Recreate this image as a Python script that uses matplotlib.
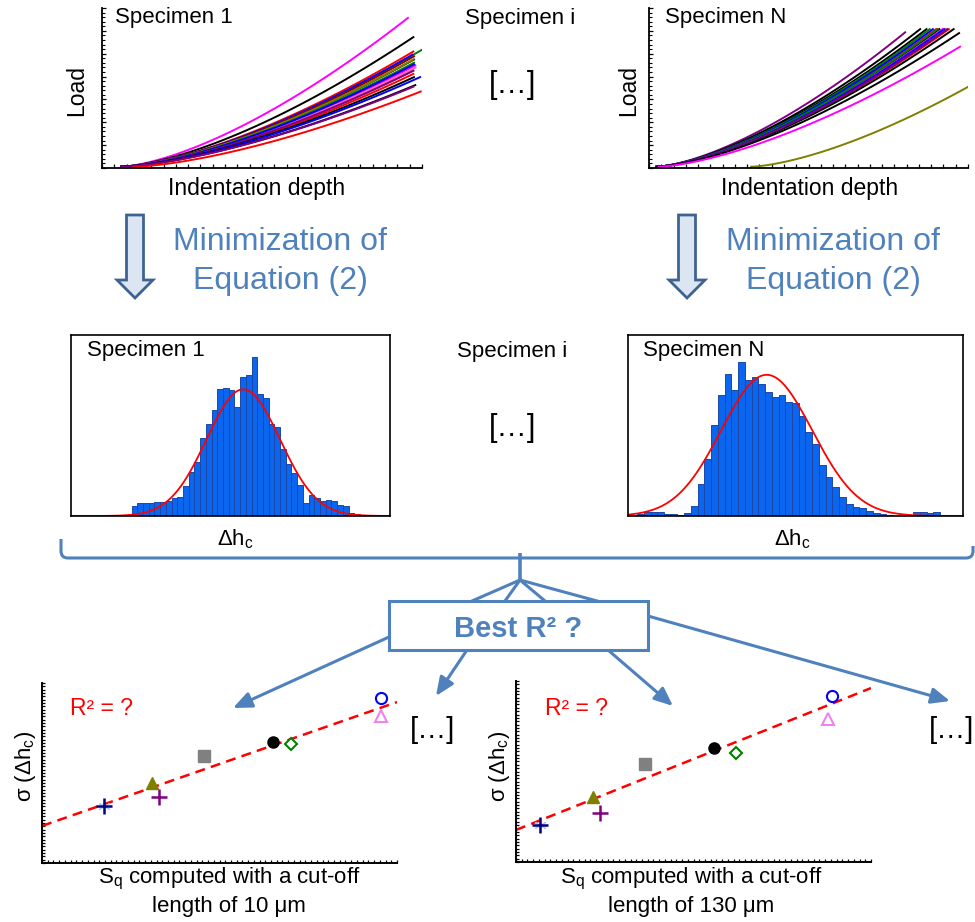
import numpy as np
import matplotlib
matplotlib.use('Agg')
import matplotlib.pyplot as plt
from matplotlib.patches import Polygon, Rectangle, PathPatch
from matplotlib.path import Path

plt.rcParams['font.family'] = ['Liberation Sans', 'DejaVu Sans']
plt.rcParams['mathtext.default'] = 'regular'

W, H = 975, 922
BLUE = '#4F81BD'

# ---- load / depth curves (axis fractions): start depth, end depth, end load
left_colors = ['magenta', 'black', 'green', 'red', 'blue', '#8B0000', 'black', 'olive',
               'magenta', 'green', 'gray', '#FF69B4', 'red', 'blue', 'purple', 'black',
               'blue', 'black', 'purple', 'red']
left_h0 = [0.06] * 19 + [0.10]
left_h1 = [0.956, 0.973, 0.999, 0.973, 0.970, 0.975, 0.975, 0.973, 0.979, 0.975,
           0.973, 0.980, 0.973, 0.975, 0.973, 0.975, 0.994, 0.979, 0.973, 0.996]
left_p1 = [0.93, 0.81, 0.73, 0.72, 0.70, 0.69, 0.67, 0.67, 0.633, 0.65,
           0.60, 0.62, 0.58, 0.64, 0.60, 0.56, 0.56, 0.51, 0.50, 0.47]

right_colors = ['purple', 'black', 'black', 'green', 'red', 'blue', 'black', 'magenta',
                'gray', 'red', 'black', 'green', 'blue', 'purple', 'black', 'magenta', 'olive']
right_h0 = [0.024] * 15 + [0.03, 0.32]
right_h1 = [0.803, 0.85, 0.87, 0.88, 0.90, 0.89, 0.91, 0.92, 0.93, 0.94,
            0.955, 0.905, 0.925, 0.935, 0.972, 0.975, 0.999]
right_p1 = [0.84, 0.86, 0.86, 0.86, 0.86, 0.86, 0.86, 0.86, 0.86, 0.86,
            0.86, 0.86, 0.86, 0.86, 0.835, 0.75, 0.498]
curve_exp = 1.5

# ---- histograms of delta h_c (bar heights in % of frame height)
hist1_counts = [5.5, 7, 7, 7, 8, 8, 8.5, 9.7, 10.7, 16.5, 24.5, 30, 43, 51, 58.5, 70, 70.5,
                69.5, 60, 77, 78, 88, 67.5, 65, 51, 49, 37, 29, 23.5, 17, 7, 11.5, 9.7,
                8.5, 8.8, 8.5, 6, 5.5, 1.5, 1]
hist1_range = (0.19, 0.906)
hist1_fit = (0.54, 0.115, 70)   # mean, sigma, amplitude

histN_counts = [0.7, 1.1, 2, 2, 2.4, 1.1, 1.1, 0.6, 1.5, 5.7, 17.7, 31.5, 50, 66.6, 78.6,
                69.7, 85, 75, 77, 73, 68.5, 65.7, 66.6, 63, 62.4, 55.5, 46.3, 40, 28,
                21.4, 15.9, 10.3, 6.6, 4.8, 4.4, 3, 1.8, 1.1, 0.4, 0.2, 0.2, 0.2, 2, 2,
                1.8, 2.4, 0.7, 0.7]
histN_range = (0.007, 0.972)
histN_fit = (0.414, 0.136, 78)

# ---- sigma(delta h_c) vs Sq for two cut-off lengths
sq10 = [0.175, 0.31, 0.33, 0.456, 0.651, 0.701, 0.955, 0.955]
sig10 = [0.317, 0.444, 0.367, 0.594, 0.672, 0.661, 0.917, 0.817]
fit10 = (0.206, 0.688)   # intercept, slope
sq130 = [0.068, 0.217, 0.237, 0.363, 0.558, 0.620, 0.890, 0.879]
sig130 = [0.204, 0.359, 0.271, 0.541, 0.630, 0.602, 0.917, 0.790]
fit130 = (0.177, 0.784)
spec_markers = ['+', '^', '+', 's', 'o', 'D', 'o', '^']
spec_colors = ['navy', '#808000', 'purple', 'gray', 'black', 'green', 'blue', 'violet']
spec_filled = [True, True, True, True, True, False, False, False]

fig = plt.figure(figsize=(W / 100, H / 100), dpi=100)


def pix_axes(x0, y0, x1, y1):
    return fig.add_axes([x0 / W, 1 - y1 / H, (x1 - x0) / W, (y1 - y0) / H])


def load_panel(box, h0s, h1s, p1s, colors):
    ax = pix_axes(*box)
    for h0, h1, p1, c in zip(h0s, h1s, p1s, colors):
        h = np.linspace(h0, h1, 80)
        ax.plot(h, 0.008 + p1 * ((h - h0) / (h1 - h0)) ** curve_exp, color=c, lw=1.4)
    ax.set_xlim(0, 1)
    ax.set_ylim(0, 1)
    for s in ['top', 'right']:
        ax.spines[s].set_visible(False)
    for s in ['left', 'bottom']:
        ax.spines[s].set_linewidth(1.3)
    ax.set_xticks(np.linspace(0, 1, 27))
    ax.set_yticks(np.linspace(0, 1, 8))
    ax.set_yticks(np.linspace(0, 1, 36), minor=True)
    ax.tick_params(direction='in', length=3, width=0.9, labelbottom=False, labelleft=False)
    ax.tick_params(which='minor', direction='in', length=2, width=0.8)
    ax.patch.set_alpha(0)


def hist_panel(box, counts, rng, fit):
    ax = pix_axes(*box)
    edges = np.linspace(rng[0], rng[1], len(counts) + 1)
    ax.bar(edges[:-1], counts, width=np.diff(edges), align='edge',
           color='#0A66EE', edgecolor='#1C47A8', lw=0.7)
    x = np.linspace(0, 1, 300)
    ax.plot(x, fit[2] * np.exp(-0.5 * ((x - fit[0]) / fit[1]) ** 2), color='red', lw=1.3)
    ax.set_xlim(0, 1)
    ax.set_ylim(0, 100)
    ax.set_xticks([])
    ax.set_yticks([])
    for s in ax.spines.values():
        s.set_linewidth(1.2)


def scatter_panel(box, xs, ys, fit):
    ax = pix_axes(*box)
    ax.plot([0, 1], [fit[0], fit[0] + fit[1]], color='red', lw=1.8, ls=(0, (4, 2.5)), zorder=2)
    for i, (x, y) in enumerate(zip(xs, ys)):
        m, c = spec_markers[i], spec_colors[i]
        if i == 0:
            ax.plot(x, y, marker=(6, 2, 0), ms=9, color='#AFC8F0', mew=0.8, zorder=3)
        if m == '+':
            ax.plot(x, y, marker='+', ms=11, color=c, mew=1.8, zorder=4)
        elif spec_filled[i]:
            ax.plot(x, y, marker=m, ms=8 if m != '^' else 8.5, color=c, mec=c, zorder=4)
        else:
            ax.plot(x, y, marker=m, ms=8 if m != 'D' else 6.5, mfc='white', mec=c,
                    mew=1.5, zorder=4)
    ax.set_xlim(0, 1)
    ax.set_ylim(0, 1)
    for s in ['top', 'right']:
        ax.spines[s].set_visible(False)
    for s in ['left', 'bottom']:
        ax.spines[s].set_linewidth(1.4)
    ax.set_xticks(np.linspace(0, 1, 63))
    ax.set_yticks(np.linspace(0, 1, 55))
    ax.tick_params(direction='in', length=2.5, width=0.9, labelbottom=False, labelleft=False)
    ax.patch.set_alpha(0)


load_panel((102, 8, 422, 168), left_h0, left_h1, left_p1, left_colors)
load_panel((649, 8, 968, 168), right_h0, right_h1, right_p1, right_colors)
hist_panel((71, 335, 390, 516), hist1_counts, hist1_range, hist1_fit)
hist_panel((628, 335, 963, 516), histN_counts, histN_range, histN_fit)
scatter_panel((42, 683, 397, 863), sq10, sig10, fit10)
scatter_panel((516, 681, 871, 862), sq130, sig130, fit130)

# ---- overlay in pixel coordinates for the diagram parts
ov = fig.add_axes([0, 0, 1, 1])
ov.set_xlim(0, W)
ov.set_ylim(H, 0)
ov.axis('off')

txt = dict(color='black', fontsize=16, va='baseline')
ov.text(115, 23, 'Specimen 1', **txt)
ov.text(665, 23, 'Specimen N', **txt)
ov.text(520, 24, 'Specimen i', ha='center', **txt)
ov.text(513, 93, '[…]', ha='center', color='black', fontsize=22, va='baseline')
ov.text(77, 90, 'Load', rotation=90, ha='center', va='center', fontsize=16.5)
ov.text(629, 90, 'Load', rotation=90, ha='center', va='center', fontsize=16.5)
ov.text(257, 195, 'Indentation depth', ha='center', va='baseline', fontsize=16.5)
ov.text(810, 195, 'Indentation depth', ha='center', va='baseline', fontsize=16.5)

# block arrows + captions
for cx, tx in [(135, 280), (687, 833)]:
    pts = [(cx - 8.5, 215), (cx + 8.5, 215), (cx + 8.5, 280), (cx + 18, 280),
           (cx, 298), (cx - 18, 280), (cx - 8.5, 280)]
    ov.add_patch(Polygon(pts, closed=True, fc='#DCE6F2', ec='#3E6392', lw=2))
    ov.text(tx, 250, 'Minimization of', ha='center', va='baseline', fontsize=23, color=BLUE)
    ov.text(tx, 289, 'Equation (2)', ha='center', va='baseline', fontsize=23, color=BLUE)

ov.text(87, 356, 'Specimen 1', **txt)
ov.text(643, 356, 'Specimen N', **txt)
ov.text(512, 357, 'Specimen i', ha='center', **txt)
ov.text(513, 436, '[…]', ha='center', color='black', fontsize=22, va='baseline')
ov.text(235, 545, 'Δh$_c$', ha='center', va='baseline', fontsize=16)
ov.text(792, 545, 'Δh$_c$', ha='center', va='baseline', fontsize=16)

# brace
brace = Path([(61, 539), (61, 551), (61, 558), (68, 558), (966, 558), (973, 558),
              (973, 551), (973, 546)],
             [Path.MOVETO, Path.LINETO, Path.CURVE3, Path.CURVE3, Path.LINETO,
              Path.CURVE3, Path.CURVE3, Path.LINETO])
ov.add_patch(PathPatch(brace, fc='none', ec=BLUE, lw=2.2))
ov.plot([520, 520], [553, 580], color=BLUE, lw=2.6, solid_capstyle='butt')
for bx in [472, 505, 545, 597]:
    ov.plot([520, bx], [580, 601], color=BLUE, lw=2.2)

ov.add_patch(Rectangle((389, 601), 259, 49, fc='white', ec=BLUE, lw=2.2, zorder=3))
ov.text(518, 637, 'Best R² ?', ha='center', va='baseline', fontsize=21,
        fontweight='bold', color=BLUE, zorder=4)

for (x0, y0), (x1, y1) in [((389, 637), (233, 708)), ((467, 650), (436, 696)),
                           ((608, 650), (673, 706)), ((648, 616), (950, 701))]:
    ov.annotate('', xy=(x1, y1), xytext=(x0, y0),
                arrowprops=dict(arrowstyle='-|>,head_length=0.7,head_width=0.3',
                                color=BLUE, lw=2.2, mutation_scale=16,
                                shrinkA=0, shrinkB=0), zorder=2)

# scatter labels
red = dict(color='red', fontsize=16.5, va='baseline')
ov.text(70, 715, 'R² = ?', **red)
ov.text(545, 715, 'R² = ?', **red)
ov.text(433, 738, '[…]', ha='center', va='baseline', fontsize=21)
ov.text(952, 738, '[…]', ha='center', va='baseline', fontsize=21)
for cx, ycx, yl, length in [(229, 25, 766, '10'), (691, 499, 766, '130')]:
    ov.text(cx, 883, 'S$_q$ computed with a cut-off', ha='center', va='baseline', fontsize=16)
    ov.text(cx, 912, 'length of %s μm' % length, ha='center', va='baseline', fontsize=16)
    ov.text(ycx, yl, 'σ (Δh$_c$)', rotation=90, ha='center', va='center', fontsize=16)

fig.savefig('out.png', dpi=100)
